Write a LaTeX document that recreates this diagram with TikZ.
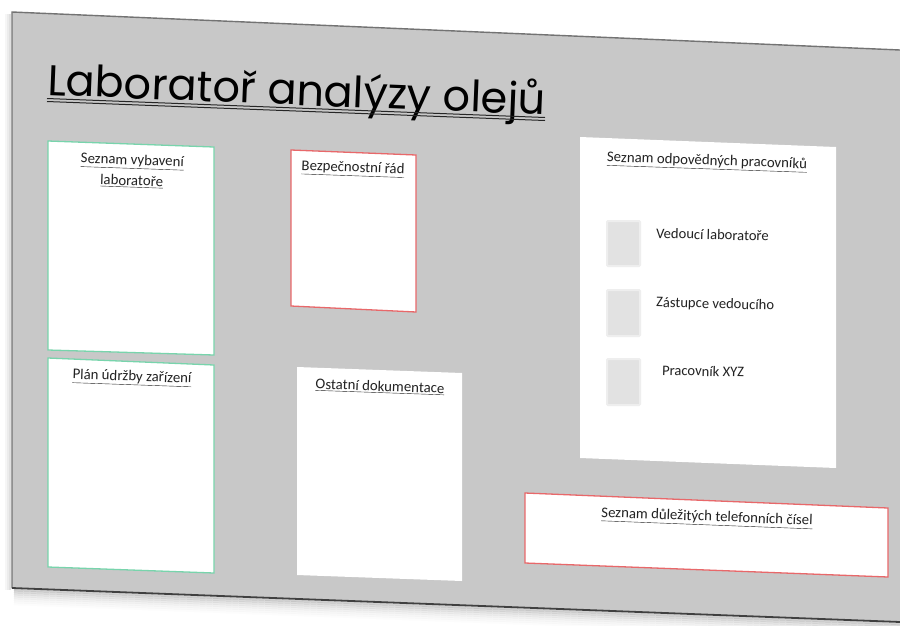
\documentclass[tikz,border=0pt]{standalone}
\usepackage{fontspec}
\setmainfont{Carlito}
\newfontfamily\titlefont{Poppins}
\definecolor{board}{HTML}{C8C8C8}
\definecolor{mint}{HTML}{78D4AC}
\definecolor{redb}{HTML}{E8686A}
\definecolor{ink}{HTML}{222222}
\definecolor{sq}{HTML}{E2E2E2}
\tikzset{
  hd/.style={font=\fontsize{14.8}{21}\selectfont, text=ink, align=center, inner sep=0pt},
  nm/.style={font=\fontsize{14.6}{16}\selectfont, text=ink, anchor=west, inner sep=0pt},
  paper/.style={fill=white},
  greenbox/.style={paper, draw=mint, line width=1.3pt},
  redbox/.style={paper, draw=redb, line width=1.3pt},
  sqbox/.style={fill=sq, draw=sq!60!white, line width=2pt, rounded corners=1pt}
}
\begin{document}
\begin{tikzpicture}[x=1pt,y=-1pt]
\useasboundingbox (0,0) rectangle (900,625);
\fill[white] (0,0) rectangle (900,625);
% shadow of the board
\foreach \d/\o in {2/0.3,4/0.24,6/0.18,8/0.13,10/0.09,12/0.06,14/0.04,16/0.02}{
  \draw[black!60, line width=2.2pt, opacity=\o] (14,588+\d) -- (900,622+\d);
}
\foreach \d/\o in {2/0.2,4/0.12,6/0.06}{
  \draw[black!60, line width=2pt, opacity=\o] (12-\d,14) -- (12-\d,590);
}
% board
\fill[board] (12,12) -- (900,50) -- (900,622) -- (12,588) -- cycle;
\draw[black!55, line width=1.4pt] (900,50) -- (12,12) -- (12,588);
\draw[black!75, line width=1.8pt] (12,588) -- (900,622);
% title
\node[anchor=base west, inner sep=0pt, rotate=-2.3, text=black] (title) at (47,95)
  {\titlefont\fontsize{43}{43}\selectfont Laboratoř analýzy olejů};
\draw[black!85, line width=1pt] (47,98.5) -- (545,117.5);
\draw[black!85, line width=1pt] (47,101.5) -- (545,120.5);
% boxes
\path[greenbox] (48,141) -- (214,147) -- (214,355) -- (48,350) -- cycle;
\path[redbox] (291,150) -- (416,155) -- (416,312) -- (291,306) -- cycle;
\path[greenbox] (48,358) -- (214,365) -- (214,573) -- (48,567) -- cycle;
\path[paper] (297,367) -- (462,373) -- (462,581) -- (297,575) -- cycle;
\path[paper] (580,137) -- (836,147) -- (836,468) -- (580,458) -- cycle;
\path[redbox] (525,493) -- (888,508) -- (888,577) -- (525,563) -- cycle;
% headings
\node[hd, rotate=-2] (t1) at (132,171) {\underline{Seznam vybavení}\\\underline{laboratoře}};
\node[hd, rotate=-2] (t2) at (353,169) {\underline{Bezpečnostní řád}};
\node[hd, rotate=-2] (t3) at (132,378) {\underline{Plán údržby zařízení}};
\node[hd, rotate=-2] (t4) at (380,387) {\underline{Ostatní dokumentace}};
\node[hd, rotate=-2] (t5) at (707,162) {\underline{Seznam odpovědných pracovníků}};
\node[hd, rotate=-2.2] (t6) at (707,518) {\underline{Seznam důležitých telefonních čísel}};
% persons
\path[sqbox] (607,221) rectangle (640,266);
\path[sqbox] (607,290) rectangle (640,336);
\path[sqbox] (607,359) rectangle (640,405);
\node[nm, rotate=-1.5] (p1) at (656,233) {Vedoucí laboratoře};
\node[nm, rotate=-1.5] (p2) at (656,303) {Zástupce vedoucího};
\node[nm, rotate=-1.5] (p3) at (662,370) {Pracovník XYZ};
\end{tikzpicture}
\end{document}
